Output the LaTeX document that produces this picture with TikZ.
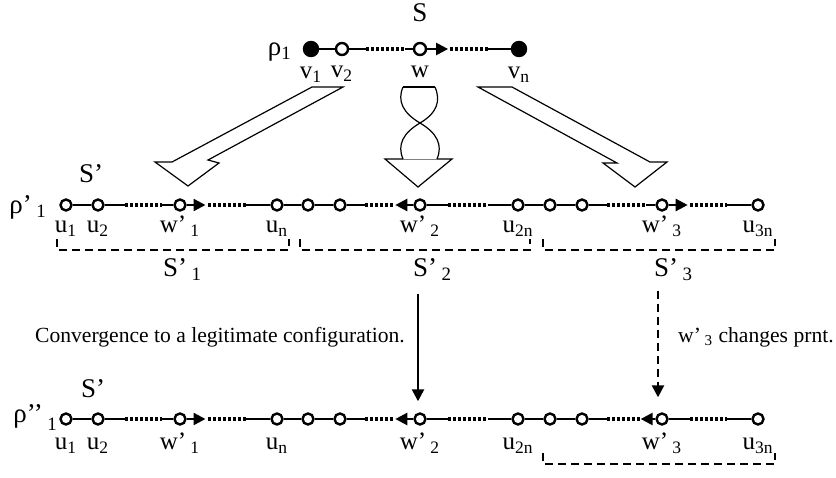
\documentclass[tikz,border=0pt]{standalone}
\usepackage{fontspec}
\setmainfont{Liberation Serif}
\usetikzlibrary{arrows.meta}
\newcommand{\primed}[2]{#1’\,\textsubscript{#2}}

\begin{document}
\begin{tikzpicture}[x=0.5pt,y=-0.5pt,line width=1.2pt,
    vtx/.style={circle,draw,fill=white,inner sep=0pt,minimum size=5.5pt},
    bigvtx/.style={vtx,minimum size=6pt},
    endvtx/.style={vtx,fill=black,minimum size=7pt},
    every label/.style={font=\fontsize{12.5}{14}\selectfont,inner sep=2pt,text height=8pt,text depth=3pt},
    dots/.style={dash pattern=on 1.5pt off 1pt,line width=1.6pt},
    ptr/.style={-{Triangle[length=6pt,width=6pt]}},
    grp/.style={dash pattern=on 4pt off 2.5pt},
    bigtxt/.style={font=\fontsize{13.5}{15}\selectfont,inner sep=0pt},
    note/.style={font=\fontsize{10.8}{13}\selectfont,inner sep=0pt},
    block/.style={line width=0.6pt,line join=miter}]

    \useasboundingbox (0,0) rectangle (836,477);

    % configuration rho_1 on S
    \node[bigtxt,anchor=base] (S) at (420,21) {S};
    \node[bigtxt,anchor=base east] (r1) at (293,55) {ρ\textsubscript{1}};
    \node[endvtx,label=below:{v\textsubscript{1}}] (v1) at (311,49) {};
    \node[bigvtx,label=below:{v\textsubscript{2}}] (v2) at (342,49) {};
    \node[bigvtx,label=below:w] (w) at (420,49) {};
    \node[endvtx,label=below:{v\textsubscript{n}}] (vn) at (519,49) {};

    \draw (v1) -- (v2);
    \path (v2) -- (w) coordinate[pos=.27](t1) coordinate[pos=.87](t2);
    \draw (v2) -- (t1) (t2) -- (w);
    \draw[dots] (t1) -- (t2);
    \path (w) -- (vn) coordinate[pos=.25](t3) coordinate[pos=.27](t4) coordinate[pos=.73](t5);
    \draw[ptr] (w) -- (t3);
    \draw[dots] (t4) -- (t5);
    \draw (t5) -- (vn);

    % block arrows
    \draw[block] (312,87) -- (343,87) -- (208,160) -- (219,163) -- (188,186) -- (155,162) -- (172,162) -- cycle;
    \draw[block] (478,87) -- (617,163) -- (603,163) -- (635,187) -- (667,162) -- (650,162) -- (512,87) -- cycle;
    \draw[block] (403,87) -- (435,87);
    \draw[block] (403,87) .. controls (397,101) and (403,113) .. (420,123) .. controls (437,133) and (443,145) .. (437,159);
    \draw[block] (435,87) .. controls (441,101) and (437,113) .. (420,123) .. controls (403,133) and (397,145) .. (403,159);
    \draw[block] (403,159) -- (385,159) -- (418,187) -- (452,159) -- (437,159);
    \draw[line width=0.4pt,gray] (403,159) -- (437,159);

    % configuration rho'_1 on S'
    \node[bigtxt,anchor=base west] (S1) at (78,182) {S’};
    \node[bigtxt,anchor=base east] (r2) at (48,213) {ρ’\,\textsubscript{1}};
    \node[vtx,label=below:{u\textsubscript{1}}] (m1) at (66,205) {};
    \node[vtx,label=below:{u\textsubscript{2}}] (m2) at (98,205) {};
    \node[vtx,label=below:{\primed{w}{1}}] (m3) at (180,205) {};
    \node[vtx,label=below:{u\textsubscript{n}}] (m4) at (277,205) {};
    \node[vtx] (m5) at (308,205) {};
    \node[vtx] (m6) at (340,205) {};
    \node[vtx,label=below:{\primed{w}{2}}] (m7) at (420,205) {};
    \node[vtx,label=below:{u\textsubscript{2n}}] (m8) at (518,205) {};
    \node[vtx] (m9) at (550,205) {};
    \node[vtx] (m10) at (582,205) {};
    \node[vtx,label=below:{\primed{w}{3}}] (m11) at (662,205) {};
    \node[vtx,label=below:{u\textsubscript{3n}}] (m12) at (758,205) {};

    \draw (m1) -- (m2);
    \path (m2) -- (m3) coordinate[pos=.30](m23a) coordinate[pos=.84](m23b);
    \draw (m2) -- (m23a) (m23b) -- (m3);
    \draw[dots] (m23a) -- (m23b);
    \path (m3) -- (m4) coordinate[pos=.225](m34a) coordinate[pos=.26](m34b) coordinate[pos=.715](m34c);
    \draw[ptr] (m3) -- (m34a);
    \draw[dots] (m34b) -- (m34c);
    \draw (m34c) -- (m4) -- (m5) -- (m6);
    \path (m6) -- (m7) coordinate[pos=.28](m67a) coordinate[pos=.73](m67b);
    \draw (m6) -- (m67a);
    \draw[dots] (m67a) -- (m67b);
    \draw[ptr] (m7) -- (m67b);
    \path (m7) -- (m8) coordinate[pos=.25](m78a) coordinate[pos=.72](m78b);
    \draw (m7) -- (m78a) (m78b) -- (m8) -- (m9) -- (m10);
    \draw[dots] (m78a) -- (m78b);
    \path (m10) -- (m11) coordinate[pos=.28](m1011a) coordinate[pos=.86](m1011b);
    \draw (m10) -- (m1011a) (m1011b) -- (m11);
    \draw[dots] (m1011a) -- (m1011b);
    \path (m11) -- (m12) coordinate[pos=.23](m1112a) coordinate[pos=.26](m1112b) coordinate[pos=.71](m1112c);
    \draw[ptr] (m11) -- (m1112a);
    \draw[dots] (m1112b) -- (m1112c);
    \draw (m1112c) -- (m12);

    % the three segments
    \draw[grp] (57,239) -- (57,250) -- (289,250) -- (289,239);
    \draw[grp] (300,239) -- (300,250) -- (530,250) -- (530,239);
    \draw[grp] (543,239) -- (543,250) -- (775,250) -- (775,239);
    \node[bigtxt,anchor=base west] (s1) at (162,276) {\primed{S}{1}};
    \node[bigtxt,anchor=base west] (s2) at (412,276) {\primed{S}{2}};
    \node[bigtxt,anchor=base west] (s3) at (653,276) {\primed{S}{3}};

    \node[note,anchor=base] (conv) at (220,342) {Convergence to a legitimate configuration.};
    \node[note,anchor=base west] (chg) at (677,342) {\primed{w}{3} changes prnt.};

    % configuration rho''_1
    \node[bigtxt,anchor=base west] (S2) at (80,397) {S’};
    \node[bigtxt,anchor=base east] (r3) at (59,422) {ρ’’\,\raisebox{-2pt}{\textsubscript{1}}};
    \begin{scope}[label distance=1.5pt]
    \node[vtx,label=below:{u\textsubscript{1}}] (l1) at (66,419) {};
    \node[vtx,label=below:{u\textsubscript{2}}] (l2) at (98,419) {};
    \node[vtx,label=below:{\primed{w}{1}}] (l3) at (180,419) {};
    \node[vtx,label=below:{u\textsubscript{n}}] (l4) at (277,419) {};
    \node[vtx] (l5) at (308,419) {};
    \node[vtx] (l6) at (340,419) {};
    \node[vtx,label=below:{\primed{w}{2}}] (l7) at (420,419) {};
    \node[vtx,label=below:{u\textsubscript{2n}}] (l8) at (518,419) {};
    \node[vtx] (l9) at (550,419) {};
    \node[vtx] (l10) at (582,419) {};
    \node[vtx,label=below:{\primed{w}{3}}] (l11) at (662,419) {};
    \node[vtx,label=below:{u\textsubscript{3n}}] (l12) at (758,419) {};
    \end{scope}

    \draw (l1) -- (l2);
    \path (l2) -- (l3) coordinate[pos=.30](l23a) coordinate[pos=.84](l23b);
    \draw (l2) -- (l23a) (l23b) -- (l3);
    \draw[dots] (l23a) -- (l23b);
    \path (l3) -- (l4) coordinate[pos=.225](l34a) coordinate[pos=.26](l34b) coordinate[pos=.715](l34c);
    \draw[ptr] (l3) -- (l34a);
    \draw[dots] (l34b) -- (l34c);
    \draw (l34c) -- (l4) -- (l5) -- (l6);
    \path (l6) -- (l7) coordinate[pos=.28](l67a) coordinate[pos=.73](l67b);
    \draw (l6) -- (l67a);
    \draw[dots] (l67a) -- (l67b);
    \draw[ptr] (l7) -- (l67b);
    \path (l7) -- (l8) coordinate[pos=.25](l78a) coordinate[pos=.72](l78b);
    \draw (l7) -- (l78a) (l78b) -- (l8) -- (l9) -- (l10);
    \draw[dots] (l78a) -- (l78b);
    \path (l10) -- (l11) coordinate[pos=.28](l1011a) coordinate[pos=.78](l1011b);
    \draw (l10) -- (l1011a);
    \draw[dots] (l1011a) -- (l1011b);
    \draw[ptr] (l11) -- (l1011b);
    \path (l11) -- (l12) coordinate[pos=.26](l1112a) coordinate[pos=.71](l1112b);
    \draw (l11) -- (l1112a) (l1112b) -- (l12);
    \draw[dots] (l1112a) -- (l1112b);
    \draw[grp] (543,453) -- (543,464) -- (775,464) -- (775,453);

    % steps between the configurations
    \draw[-{Triangle[length=6pt,width=6pt]},shorten <=41pt,shorten >=5.5pt]
      ([xshift=-1pt]m7.south) -- ([xshift=-1pt]l7.north);
    \draw[grp,-{Triangle[length=6pt,width=6pt]},shorten <=39.5pt,shorten >=7.5pt]
      ([xshift=-2pt]m11.south) -- ([xshift=-2pt]l11.north);

  \end{tikzpicture}
\end{document}
